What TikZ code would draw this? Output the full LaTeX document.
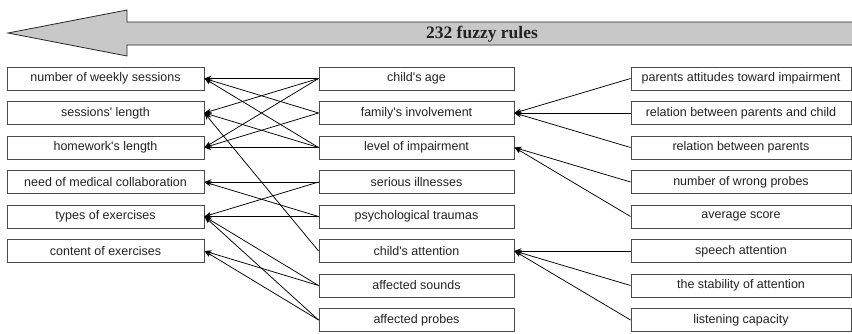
\documentclass[tikz,border=0pt]{standalone}
\usepackage{fontspec}
\setmainfont{Liberation Sans}
\newfontfamily\titlefont{Liberation Serif}
\usetikzlibrary{arrows.meta}
\definecolor{boxline}{HTML}{4A4A4A}
\definecolor{arrowgray}{HTML}{C8C8C8}
\definecolor{txt}{HTML}{222222}
\newcommand\ap{\textquotesingle}
\tikzset{
  fbox/.style={draw=boxline, line width=0.9pt, fill=white, minimum height=23pt, inner sep=0pt,
    font=\fontsize{12.5}{14}\selectfont, text=txt},
  lbox/.style={fbox, minimum width=197pt},
  mbox/.style={fbox, minimum width=195pt},
  rbox/.style={fbox, minimum width=220pt},
  conn/.style={draw=black, line width=0.75pt, -{Stealth[length=7pt,width=5.5pt]}}
}
\begin{document}
\begin{tikzpicture}[x=1pt,y=-1pt]
\useasboundingbox (0,0) rectangle (852,333);
% big arrow
\draw[fill=arrowgray, line width=0.8pt, draw=black!85] (8,33) -- (127,10) -- (127,22) -- (860,22) -- (860,45) -- (127,45) -- (127,56) -- cycle;
\node[font=\titlefont\bfseries\fontsize{17.5}{20}\selectfont, text=txt] (title) at (482,34) {232 fuzzy rules};
% rows
\def\ra{78.5}\def\rb{113}\def\rc{147.5}\def\rd{182}\def\re{216.5}\def\rf{251}\def\rg{285.5}\def\rh{320}
% left column
\node[lbox] (l1) at (105.5,\ra) {number of weekly sessions};
\node[lbox] (l2) at (105.5,\rb) {sessions\ap{} length};
\node[lbox] (l3) at (105.5,\rc) {homework\ap{}s length};
\node[lbox] (l4) at (105.5,\rd) {need of medical collaboration};
\node[lbox] (l5) at (105.5,\re) {types of exercises};
\node[lbox] (l6) at (105.5,\rf) {content of exercises};
% middle column
\node[mbox] (m1) at (416.5,\ra) {child\ap{}s age};
\node[mbox] (m2) at (416.5,\rb) {family\ap{}s involvement};
\node[mbox] (m3) at (416.5,\rc) {level of impairment};
\node[mbox] (m4) at (416.5,\rd) {serious illnesses};
\node[mbox] (m5) at (416.5,\re) {psychological traumas};
\node[mbox] (m6) at (416.5,\rf) {child\ap{}s attention};
\node[mbox] (m7) at (416.5,\rg) {affected sounds};
\node[mbox] (m8) at (416.5,\rh) {affected probes};
% right column
\node[rbox] (r1) at (741,\ra) {parents attitudes toward impairment};
\node[rbox] (r2) at (741,\rb) {relation between parents and child};
\node[rbox] (r3) at (741,\rc) {relation between parents};
\node[rbox] (r4) at (741,\rd) {number of wrong probes};
\node[rbox] (r5) at (741,\re) {average score};
\node[rbox] (r6) at (741,\rf) {speech attention};
\node[rbox] (r7) at (741,\rg) {the stability of attention};
\node[rbox] (r8) at (741,\rh) {listening capacity};
% middle -> left
\foreach \s/\t in {m1/l1, m1/l2, m1/l3, m2/l1, m2/l3, m3/l1, m3/l2, m3/l3, m6/l2,
                   m4/l4, m5/l4, m4/l5, m5/l5, m7/l5, m8/l5, m7/l6, m8/l6}
  \draw[conn] (\s.west) -- (\t.east);
% right -> middle
\foreach \s/\t in {r1/m2, r2/m2, r3/m2, r4/m3, r5/m3, r6/m6, r7/m6, r8/m6}
  \draw[conn] (\s.west) -- (\t.east);
\end{tikzpicture}
\end{document}
